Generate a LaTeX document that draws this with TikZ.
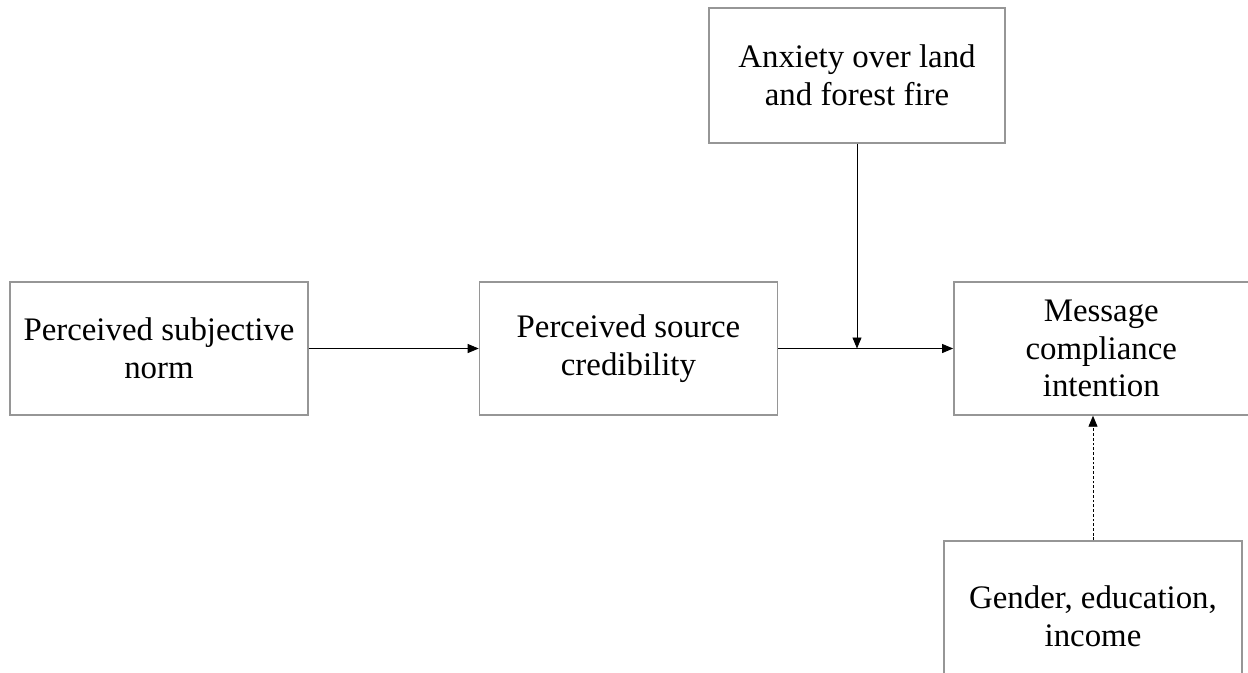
\documentclass[tikz,border=0pt]{standalone}
\usepackage{fontspec}
\setmainfont{Liberation Serif}
\usetikzlibrary{arrows.meta,positioning}

\begin{document}
\begin{tikzpicture}[
        >={Triangle[length=2.2mm,width=1.8mm]}, % arrow head style
        node distance=3.4cm]

        \tikzset{
            factor/.style={
                draw = {rgb,255:red,150;green,150;blue,150},
                line width=0.8pt,
                fill = white,
                align = center,
                minimum width = 5.96cm,
                minimum height = 2.66cm,
                inner sep = 0pt,
                font = \fontsize{18.7}{21.5}\selectfont
            },
            link/.style={->, draw = black, line width=0.5pt},
            control/.style={link, dash pattern=on 1.6pt off 1.1pt}
        }
        \useasboundingbox (0,0) rectangle (24.96,-13.44);
        \clip (0,0) rectangle (24.96,-13.44);

        \node[factor] (norm) at (3.18,-6.97) {Perceived subjective\\norm};
        \node[factor] (cred) [right=of norm] {Perceived source\\credibility};
        \node[factor, minimum width=5.9cm] (msg) [right=3.5cm of cred] {Message\\compliance\\intention};
        \node[factor, minimum width=5.92cm, minimum height=2.7cm] (anx) at (17.14,-1.51) {Anxiety over land\\and forest fire};
        \node[factor, minimum height=3cm] (gen) at (21.86,-12.32) {Gender, education,\\income};

        \coordinate (mod) at (anx.south |- cred.east);
        \path
        (norm.east) edge[link] (cred.west)
        (cred.east) edge[link] (msg.west)
        (anx.south) edge[link] (mod)
        (gen.north) edge[control] (gen.north |- msg.south)
        ;
    \end{tikzpicture}
\end{document}
